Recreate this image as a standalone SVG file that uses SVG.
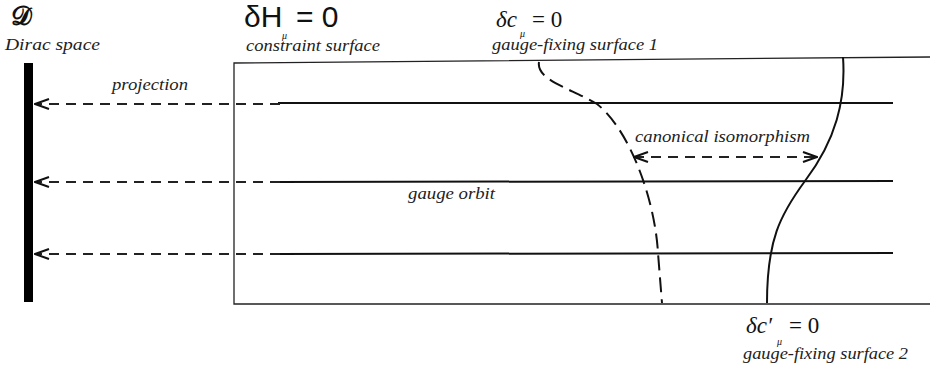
<svg xmlns="http://www.w3.org/2000/svg" width="930" height="369" viewBox="0 0 930 369">
<style>
.lbl{font-family:'Liberation Serif','Times New Roman','DejaVu Serif',serif;font-style:italic;font-size:16px;fill:#222}
.eq{font-family:'Liberation Serif','Times New Roman','DejaVu Serif',serif;fill:#111}
.sub{font-family:'Liberation Serif','Times New Roman','DejaVu Serif',serif;font-style:italic;font-size:10px;fill:#111}
.sans{font-family:'Liberation Sans','DejaVu Sans',sans-serif;fill:#111}
.orbit{stroke:#111;stroke-width:2;fill:none}
.proj{stroke:#222;stroke-width:2.2;fill:none;stroke-dasharray:10 7}
.frame{stroke:#222;stroke-width:1.3;fill:none}
</style>
<defs>
<marker id="chev" viewBox="0 0 16 12" refX="15" refY="6" markerWidth="16" markerHeight="12" markerUnits="userSpaceOnUse" orient="auto-start-reverse">
<path d="M1,1 L15,6 L1,11" fill="none" stroke="#111" stroke-width="2"/>
</marker>
</defs>
<g id="dirac-space">
<rect x="24" y="63" width="9" height="239" fill="#000"/>
<text x="11" y="25" font-family="'DejaVu Serif','Noto Sans',serif" font-size="26" font-weight="bold" fill="#111">𝒟</text>
<text class="lbl" x="5" y="50" textLength="95" lengthAdjust="spacingAndGlyphs">Dirac space</text>
</g>
<g id="constraint-surface">
<path class="frame" d="M930,57 L234,63 L234,304 L930,304"/>
<text class="sans" font-size="30" x="244" y="27">δH<tspan x="296">= 0</tspan></text>
<text class="sub" x="282" y="39">μ</text>
<text class="lbl" x="246" y="51" textLength="134" lengthAdjust="spacingAndGlyphs">constraint surface</text>
</g>
<g id="gauge-fixing-1">
<path d="M539,62 C536,80 570,88 597,104 C630,130 655,200 658,253 L662,303" fill="none" stroke="#111" stroke-width="2" stroke-dasharray="15 7"/>
<text class="eq" font-size="23" x="496" y="27"><tspan font-style="italic">δc</tspan><tspan x="532">= 0</tspan></text>
<text class="sub" x="520" y="37">μ</text>
<text class="lbl" x="492" y="50" textLength="166" lengthAdjust="spacingAndGlyphs">gauge-fixing surface 1</text>
</g>
<g id="gauge-fixing-2">
<path d="M843,57 C846,100 836,140 805,181 C780,215 767,240 767,303" fill="none" stroke="#111" stroke-width="2"/>
<text class="eq" font-size="23" x="746" y="333"><tspan font-style="italic">δc′</tspan><tspan x="789">= 0</tspan></text>
<text class="sub" x="777" y="345">μ</text>
<text class="lbl" x="743" y="359" textLength="165" lengthAdjust="spacingAndGlyphs">gauge-fixing surface 2</text>
</g>
<g id="gauge-orbits">
<line class="orbit" x1="278" y1="103" x2="893" y2="103"/>
<line class="orbit" x1="278" y1="182" x2="893" y2="181"/>
<line class="orbit" x1="278" y1="254" x2="893" y2="253"/>
<text class="lbl" x="408" y="199" textLength="87" lengthAdjust="spacingAndGlyphs">gauge orbit</text>
</g>
<g id="connectors">
<line class="proj" x1="280" y1="104" x2="35" y2="104" marker-end="url(#chev)"/>
<line class="proj" x1="280" y1="182" x2="35" y2="182" marker-end="url(#chev)"/>
<line class="proj" x1="280" y1="254" x2="35" y2="254" marker-end="url(#chev)"/>
<text class="lbl" x="112" y="90" textLength="76" lengthAdjust="spacingAndGlyphs">projection</text>
<line x1="634" y1="157" x2="817" y2="157" stroke="#222" stroke-width="2.2" stroke-dasharray="10 7" marker-start="url(#chev)" marker-end="url(#chev)"/>
<text class="lbl" x="635" y="142" textLength="175" lengthAdjust="spacingAndGlyphs">canonical isomorphism</text>
</g>
</svg>
